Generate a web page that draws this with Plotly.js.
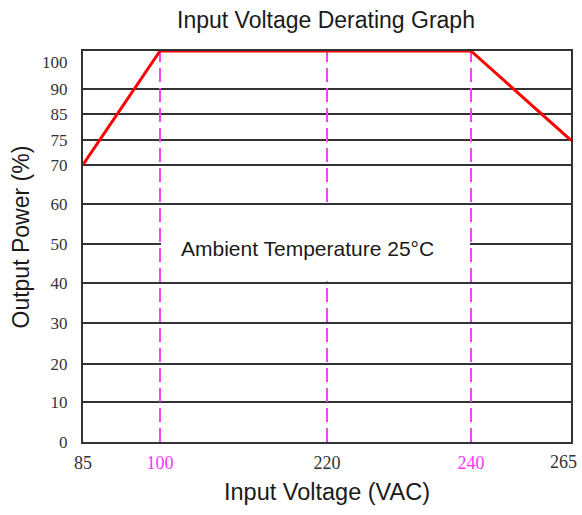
<!DOCTYPE html>
<html>
<head>
<meta charset="utf-8">
<script src="https://cdn.plot.ly/plotly-3.0.1.min.js"></script>
<style>html,body{margin:0;padding:0;background:#fff;}#chart{width:582px;height:515px;}</style>
</head>
<body>
<div id="chart"></div>
<script>
// ---- data ----
const voltage = [85, 100, 240, 265];          // VAC
const outputPower = [70, 100, 100, 75];        // %
const markerVoltages = [100, 220, 240];        // dashed reference lines
const xTickValues = [85, 100, 220, 240, 265];
const xTickColors = ["#333333", "#ff33ff", "#333333", "#ff33ff", "#333333"];
const yTickValues = [0, 10, 20, 30, 40, 50, 60, 70, 75, 85, 90, 100];
const noteText = "Ambient Temperature 25°C";

// ---- non-linear axis scales (breakpoints of the printed grid) ----
const xScaleStops = [0, 77, 244, 388, 488];
const yScaleStops = [0, 39.7, 78, 118.7, 159.3, 198, 238, 277.3, 301.7, 327.7, 352.7, 391];

function interp(v, vals, stops) {
  for (let i = 0; i < vals.length - 1; i++) {
    if (v >= vals[i] && v <= vals[i + 1]) {
      const t = (v - vals[i]) / (vals[i + 1] - vals[i]);
      return stops[i] + t * (stops[i + 1] - stops[i]);
    }
  }
  return v < vals[0] ? stops[0] : stops[stops.length - 1];
}
const toX = v => interp(v, xTickValues, xScaleStops);
const toY = v => interp(v, yTickValues, yScaleStops);

const magenta = "#f542f5";
const serif = "Liberation Serif, Times New Roman, serif";
const sans = "Liberation Sans, Arial, sans-serif";

const traces = [{
  x: voltage.map(toX),
  y: outputPower.map(toY),
  type: "scatter",
  mode: "lines",
  line: {color: "#ff0000", width: 3},
  cliponaxis: false,
  hoverinfo: "skip",
  showlegend: false
}];

const shapes = [];
// 220 line sits beneath the note box
markerVoltages.filter(v => v === 220).forEach(v => shapes.push({
  type: "line", layer: "between", xref: "x", yref: "y",
  x0: toX(v), x1: toX(v), y0: toY(0), y1: toY(100),
  line: {color: magenta, width: 2, dash: "14px,6px"}
}));
// white box behind the note
shapes.push({
  type: "rect", layer: "between", xref: "x", yref: "y",
  x0: toX(100) + 1, x1: toX(240) - 1, y0: toY(40) + 1.5, y1: toY(60) - 1.5,
  fillcolor: "#ffffff", line: {width: 0}
});
markerVoltages.filter(v => v !== 220).forEach(v => shapes.push({
  type: "line", layer: "between", xref: "x", yref: "y",
  x0: toX(v), x1: toX(v), y0: toY(0), y1: toY(100),
  line: {color: magenta, width: 2, dash: "14px,6px"}
}));

const lastX = xTickValues.length - 1;
// last x label is drawn right-aligned so it stays inside the page
const xLabels = xTickValues.map((v, i) =>
  i === lastX ? "" : '<span style="color:' + xTickColors[i] + '">' + v + '</span>');
const yLabels = yTickValues.map((v, i) => (i === yTickValues.length - 1) ? "<br>" + v : String(v));

const layout = {
  width: 582, height: 515,
  margin: {l: 83, r: 11, t: 51, b: 73},
  paper_bgcolor: "#ffffff", plot_bgcolor: "#ffffff",
  title: {
    text: "Input Voltage Derating Graph",
    font: {family: sans, size: 23, color: "#1a1a1a"},
    x: 326 / 582, xanchor: "center", xref: "container",
    y: 1 - 19.5 / 515, yanchor: "middle", yref: "container"
  },
  xaxis: {
    range: [toX(85), toX(265)],
    tickmode: "array",
    tickvals: xTickValues.map(toX),
    ticktext: xLabels,
    tickfont: {family: serif, size: 18, color: "#333333"},
    ticks: "", ticklabelstandoff: 3,
    showgrid: false, zeroline: false,
    showline: true, linecolor: "#333333", linewidth: 2, mirror: true,
    layer: "below traces",
    title: {text: "Input Voltage (VAC)", font: {family: sans, size: 23.5, color: "#1a1a1a"}, standoff: 12},
    fixedrange: true
  },
  yaxis: {
    range: [toY(0), toY(100)],
    tickmode: "array",
    tickvals: yTickValues.map(toY),
    ticktext: yLabels,
    tickfont: {family: serif, size: 17, color: "#333333"},
    ticks: "", ticklabelstandoff: 10,
    showgrid: true, gridcolor: "#333333", gridwidth: 2,
    zeroline: false,
    showline: true, linecolor: "#333333", linewidth: 2, mirror: true,
    layer: "below traces",
    fixedrange: true
  },
  shapes: shapes,
  annotations: [
    {
      text: noteText, xref: "x", yref: "y",
      x: toX(100) + 19, y: toY(50) - 4, xanchor: "left", yanchor: "middle",
      showarrow: false, font: {family: sans, size: 21, color: "#1a1a1a"}
    },
    {
      text: String(xTickValues[lastX]), xref: "x", yref: "paper",
      x: toX(xTickValues[lastX]), y: 0, xanchor: "right", yanchor: "middle",
      xshift: 8, yshift: -20, showarrow: false,
      font: {family: serif, size: 18, color: xTickColors[lastX]}
    },
    {
      text: "Output Power (%)", xref: "paper", yref: "paper",
      x: (20 - 83) / 488, y: (442 - 237.5) / 391, xanchor: "center", yanchor: "middle",
      textangle: -90, showarrow: false,
      font: {family: sans, size: 23, color: "#1a1a1a"}
    }
  ]
};

Plotly.newPlot("chart", traces, layout, {staticPlot: true, displayModeBar: false});
</script>
</body>
</html>
